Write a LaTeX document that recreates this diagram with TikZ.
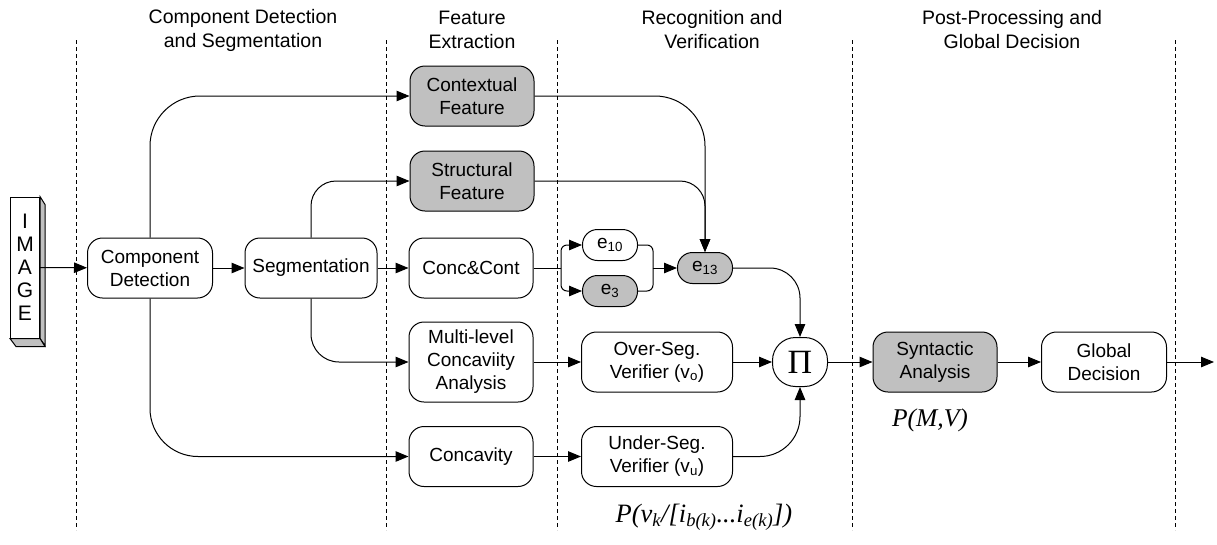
\documentclass[tikz,border=0pt]{standalone}
\usepackage{fontspec}
\setmainfont{Liberation Sans}
\newfontfamily\tserif{Liberation Serif}
\usetikzlibrary{arrows.meta}

\definecolor{boxgray}{RGB}{192,192,192}

\tikzset{
  arr/.style={-{Triangle[length=13pt,width=10.5pt]}},
  stage/.style={draw,dash pattern=on 4pt off 3pt,line width=0.8pt},
  shade/.style={fill=boxgray},
}

\begin{document}
\begin{tikzpicture}[x=1pt,y=-1pt,line width=1pt,font=\fontsize{19}{23}\selectfont]
      \useasboundingbox (0,0) rectangle (1217,544);

      % stage borders and titles
      \foreach \x in {76,386,557,852,1175}
        \path[stage] (\x,40) -- (\x,530);

      \begin{scope}[every node/.style={align=center,font=\fontsize{19.5}{24}\selectfont}]
        \node (h1) at (243,30)  {Component Detection\\and Segmentation};
        \node (h2) at (472,30)  {Feature\\Extraction};
        \node (h3) at (712,30)  {Recognition and\\Verification};
        \node (h4) at (1012,30) {Post-Processing and\\Global Decision};
      \end{scope}

      % the image
      \node[draw,fill=white,minimum width=29pt,minimum height=141pt,inner sep=0pt,align=center,font=\fontsize{21}{23}\selectfont] (0) at (25,267.5) {I\\M\\A\\G\\E};
      \draw[shade] (0.north east) -- ++(5,8) -- ++(0,141) -- (0.south east) -- cycle;
      \draw[shade] (0.south west) -- (0.south east) -- ++(5,8) -- ++(-29,0) -- cycle;

      \begin{scope}[every node/.style={draw,rounded corners=15pt,align=center,minimum height=60pt,minimum width=124pt,inner sep=2pt}]
        \node (1)  at (150,268)  [minimum width=125pt] {Component\\Detection};
        \node (2)  at (311,268)  [minimum width=132pt] {Segmentation};
        \node (3)  at (472,96)   [fill=boxgray] {Contextual\\Feature};
        \node (4)  at (472,181)  [fill=boxgray] {Structural\\Feature};
        \node (5)  at (471,268)  {Conc\&Cont};
        \node (6)  at (471,362)  [minimum height=80pt] {Multi-level\\Concaviity\\Analysis};
        \node (7)  at (471,456.5) {Concavity};
        \node (11) at (657,362)  [minimum width=151pt] {Over-Seg.\\Verifier (v\textsubscript{o})};
        \node (12) at (657,456.5) [minimum width=151pt] {Under-Seg.\\Verifier (v\textsubscript{u})};
        \node (14) at (935,362)  [fill=boxgray] {Syntactic\\Analysis};
        \node (15) at (1104,362) [minimum width=125pt] {Global\\Decision};
      \end{scope}

      \begin{scope}[every node/.style={draw,rounded corners=15pt,minimum height=31pt,minimum width=55pt,inner sep=1pt}]
        \node (8)  at (610,245) {e\textsubscript{10}};
        \node (9)  at (610,291) [fill=boxgray] {e\textsubscript{3}};
        \node (10) at (705,268) [fill=boxgray] {e\textsubscript{13}};
        \node (13) at (800,362) [rounded corners=23pt,minimum height=49pt,font=\tserif\fontsize{34}{34}\selectfont] {Π};
      \end{scope}

      \coordinate (f)   at (561,268);
      \coordinate (m)   at (653,268);
      \coordinate (out) at (1214,362);

      \node (16) at (930,420) {\tserif\itshape\fontsize{25.5}{25}\selectfont P(M,V)};
      \node (17) at (704,517) {\tserif\itshape\fontsize{26.5}{26}\selectfont P(v\textsubscript{k}/[i\textsubscript{b(k)}...i\textsubscript{e(k)}])};

      \begin{scope}[every edge/.style={draw,arr}]
        \path (0)  edge (1);
        \path (1)  edge (2);
        \path (2)  edge (5);
        \path (6)  edge (11);
        \path (7)  edge (12);
        \path (11) edge (13);
        \path (13) edge (14);
        \path (14) edge (15);
        \path (15) edge (out);
        \path (m)  edge (10);
      \end{scope}

      \draw (5) -- (f);
      \draw[arr,rounded corners=6pt] (f) |- (8);
      \draw[arr,rounded corners=6pt] (f) |- (9);
      \draw[rounded corners=6pt] (8) -| (m);
      \draw[rounded corners=6pt] (9) -| (m);

      \draw[arr,rounded corners=50pt] (1) |- (3);
      \draw[arr,rounded corners=48pt] (1) |- (7);
      \draw[arr,rounded corners=25pt] (2) |- (4);
      \draw[arr,rounded corners=28pt] (2) |- (6);
      \draw[arr,rounded corners=50pt] (3) -| (10);
      \draw[arr,rounded corners=25pt] (4) -| (10);
      \draw[arr,rounded corners=30pt] (10) -| (13);
      \draw[arr,rounded corners=40pt] (12) -| (13);

    \end{tikzpicture}
\end{document}
